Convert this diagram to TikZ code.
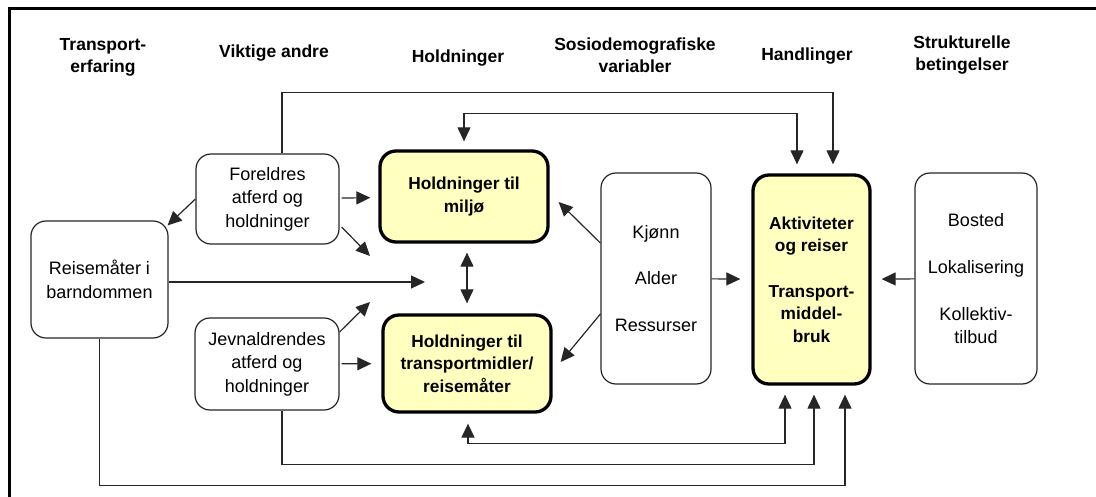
\documentclass[tikz,border=0pt]{standalone}
\usepackage{fontspec}
\setmainfont{Liberation Sans}
\usetikzlibrary{arrows.meta}
\definecolor{paleyellow}{RGB}{255,255,192}

\begin{document}
\begin{tikzpicture}[x=1pt, y=-1pt, >={Triangle[length=14pt,width=13pt]},
	every node/.style={font=\fontsize{18}{23.5}\selectfont, align=center, inner sep=0pt},
	head/.style={font=\fontsize{17.5}{22}\selectfont\bfseries},
	box/.style={draw=black!85, line width=1.2pt, rounded corners=15pt, fill=white},
	keybox/.style={draw=black, line width=3.3pt, rounded corners=16pt, fill=paleyellow, font=\fontsize{17.3}{22.5}\selectfont\bfseries},
	link/.style={draw=black!85, line width=1.2pt}]
	\useasboundingbox (0,0) rectangle (1096,497);
	\draw[line width=3pt] (9,497) -- (9,9) -- (1096,9);

	\node[head] (h-erfaring) at (103,57) {Transport-\\erfaring};
	\node[head] (h-andre) at (274,53) {Viktige andre};
	\node[head] (h-holdn) at (458,58) {Holdninger};
	\node[head] (h-sosio) at (635,55) {Sosiodemografiske\\variabler};
	\node[head] (h-handl) at (807,56) {Handlinger};
	\node[head] (h-strukt) at (962,55) {Strukturelle\\betingelser};

	\node[box, minimum width=143pt, minimum height=90pt] (foreldre) at (267.5,199) {Foreldres\\atferd og\\holdninger};
	\node[keybox, minimum width=168pt, minimum height=91pt] (miljo) at (464,196.5) {Holdninger til\\miljø};
	\node[box, minimum width=137pt, minimum height=117pt] (reise) at (99.5,279.5) {Reisemåter i\\barndommen};
	\node[box, minimum width=144pt, minimum height=92pt] (jevn) at (267,364) {Jevnaldrendes\\atferd og\\holdninger};
	\node[keybox, minimum width=168pt, minimum height=97pt] (transp) at (467,363.5) {Holdninger til\\transportmidler/\\reisemåter};
	\node[box, minimum width=110pt, minimum height=211pt] (kjonn) at (656,278.5) {Kjønn\\[23pt]Alder\\[23pt]Ressurser};
	\node[keybox, minimum width=117pt, minimum height=209pt] (aktiv) at (811.5,279.5) {Aktiviteter\\og reiser\\[23pt]Transport-\\middel-\\bruk};
	\node[box, minimum width=122pt, minimum height=211pt] (bosted) at (976,278.5) {Bosted\\[24pt]Lokalisering\\[23pt]Kollektiv-\\tilbud};

	\coordinate (fo-tip) at (370,256);
	\coordinate (jv-tip) at (370,302);
	\coordinate (rb-tip) at (425,282);

	\draw[link,->,shorten >=9pt] ([xshift=14.5pt]foreldre.north) -- ++(0,-61) -| ([xshift=21.5pt]aktiv.north);
	\draw[link,<->,shorten <=8pt,shorten >=9pt] (miljo.north) -- ++(0,-36) -| ([xshift=-14.5pt]aktiv.north);
	\draw[link,<->,shorten <=10pt,shorten >=9pt] ([xshift=1pt]transp.south) -- ++(0,30) -| ([xshift=-26.5pt]aktiv.south);
	\draw[link,->,shorten >=9pt] ([xshift=15pt]jevn.south) -- ++(0,54) -| ([xshift=2.5pt]aktiv.south);
	\draw[link,->,shorten >=9pt] (reise.south) -- ++(0,147) -| ([xshift=33.5pt]aktiv.south);

	\draw[link,->] (foreldre.west) -- ([xshift=-1pt,yshift=-5pt]reise.north east);
	\draw[link,->,shorten <=2pt,shorten >=8pt] (foreldre) -- (miljo);
	\draw[link,->] ([xshift=2pt,yshift=-28pt]foreldre.east) -- (fo-tip);
	\draw[link,->] (reise.east |- rb-tip) -- (rb-tip);
	\draw[link,<->,shorten <=9pt,shorten >=10pt] (transp.north |- miljo.south) -- (transp.north);
	\draw[link,->] ([yshift=32pt]jevn.east) -- (jv-tip);
	\draw[link,->,shorten <=2pt,shorten >=10pt] (jevn) -- (transp);
	\draw[link,->] ([yshift=35.5pt]kjonn.west) -- ([xshift=9pt,yshift=-5.5pt]miljo.east);
	\draw[link,->] ([yshift=-35.5pt]kjonn.west) -- ([xshift=8pt,yshift=1.5pt]transp.east);
	\draw[link,->,shorten >=11pt] (kjonn) -- (aktiv);
	\draw[link,->,shorten >=10pt] (bosted) -- (aktiv);
\end{tikzpicture}
\end{document}
